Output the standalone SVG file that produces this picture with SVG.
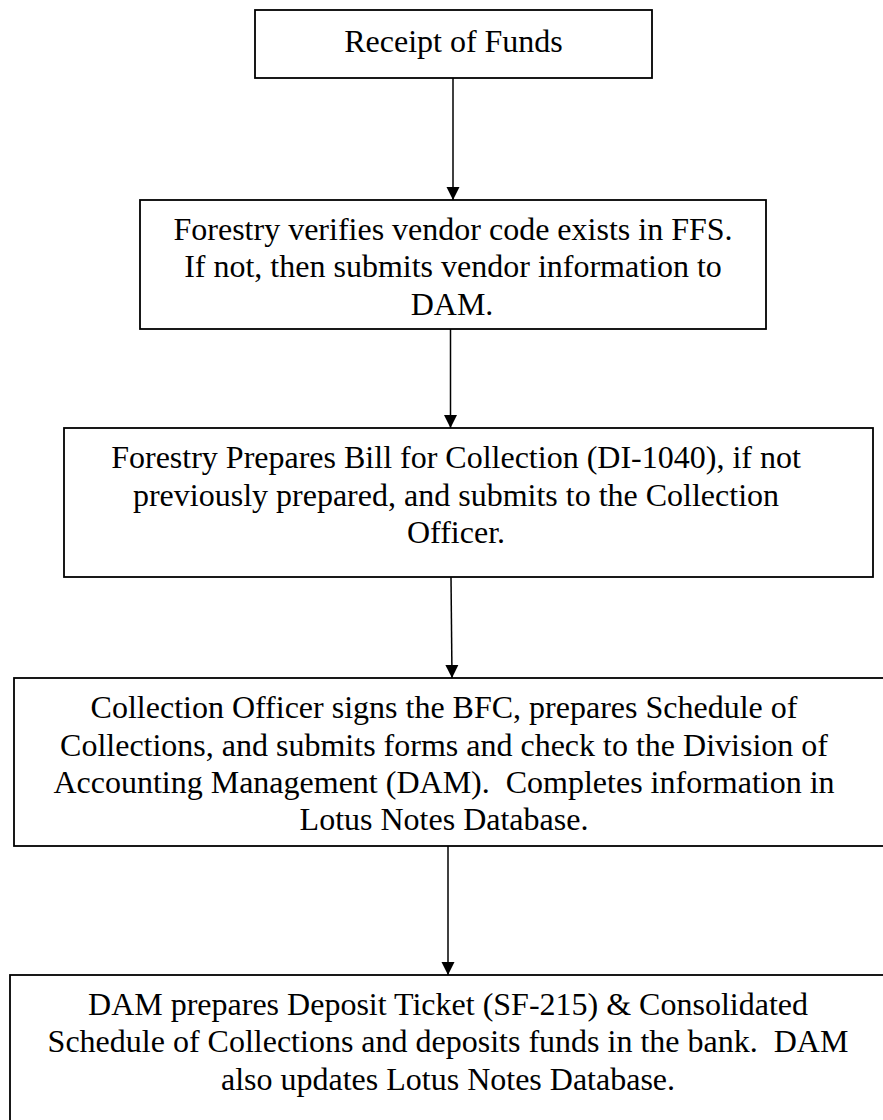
<svg xmlns="http://www.w3.org/2000/svg" width="883" height="1120" viewBox="0 0 883 1120">
<style>
.box{fill:#fff;stroke:#000;stroke-width:1.8}
.t{font-family:"Liberation Serif","Times New Roman",serif;font-size:32px;fill:#000;text-anchor:middle;white-space:pre}
.c{stroke:#000;stroke-width:1.5;fill:none}
</style>
<defs>
<marker id="ah" markerUnits="userSpaceOnUse" markerWidth="14" markerHeight="14" viewBox="0 0 14 14" refX="13" refY="7" orient="auto">
<path d="M0,0.5 L13,7 L0,13.5 z" fill="#000"/>
</marker>
</defs>
<rect width="883" height="1120" fill="#fff"/>
<g id="connectors">
<line class="c" x1="453" y1="78" x2="453" y2="200" marker-end="url(#ah)"/>
<line class="c" x1="450.5" y1="329" x2="450.5" y2="428" marker-end="url(#ah)"/>
<line class="c" x1="451" y1="577" x2="452" y2="678" marker-end="url(#ah)"/>
<line class="c" x1="448" y1="846" x2="448" y2="975" marker-end="url(#ah)"/>
</g>
<g id="n1">
<rect class="box" x="255" y="10" width="397" height="68"/>
<text class="t" x="453.5" y="52">Receipt of Funds</text>
</g>
<g id="n2">
<rect class="box" x="140" y="200" width="626" height="129"/>
<text class="t" x="453" y="240">Forestry verifies vendor code exists in FFS.</text>
<text class="t" x="453" y="277">If not, then submits vendor information to</text>
<text class="t" x="452" y="315">DAM.</text>
</g>
<g id="n3">
<rect class="box" x="64" y="428" width="809" height="149"/>
<text class="t" x="456" y="468">Forestry Prepares Bill for Collection (DI-1040), if not</text>
<text class="t" x="456" y="506">previously prepared, and submits to the Collection</text>
<text class="t" x="456" y="543">Officer.</text>
</g>
<g id="n4">
<rect class="box" x="14" y="678" width="880" height="168"/>
<text class="t" x="444" y="718">Collection Officer signs the BFC, prepares Schedule of</text>
<text class="t" x="444" y="756">Collections, and submits forms and check to the Division of</text>
<text class="t" x="444" y="793">Accounting Management (DAM).  Completes information in</text>
<text class="t" x="444" y="830">Lotus Notes Database.</text>
</g>
<g id="n5">
<rect class="box" x="10" y="975" width="885" height="160"/>
<text class="t" x="448" y="1015">DAM prepares Deposit Ticket (SF-215) &amp; Consolidated</text>
<text class="t" x="448" y="1052">Schedule of Collections and deposits funds in the bank.  DAM</text>
<text class="t" x="448" y="1090">also updates Lotus Notes Database.</text>
</g>
</svg>
